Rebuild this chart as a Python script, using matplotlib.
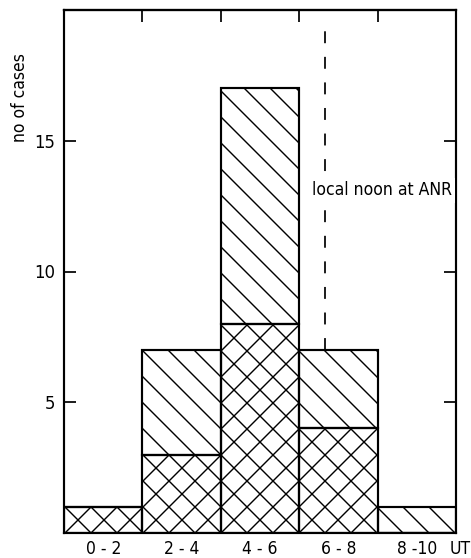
import matplotlib
matplotlib.use("Agg")
import matplotlib.pyplot as plt
from matplotlib import font_manager
import numpy as np

# ---- data ----
categories = ['0 - 2', '2 - 4', '4 - 6', '6 - 8', '8 -10']
bin_left = [0, 2, 4, 6, 8]
totals = [1, 7, 17, 7, 1]
crossed = [1, 3, 8, 4, 0]
yticks = [5, 10, 15]
top_ticks = [2, 4, 6, 8]
noon_x = 6.65
noon_label = 'local noon at ANR'

hatched = [t - c for t, c in zip(totals, crossed)]

names = {f.name for f in font_manager.fontManager.ttflist}
fam = 'Liberation Sans Narrow' if 'Liberation Sans Narrow' in names else 'DejaVu Sans'
plt.rcParams['font.family'] = [fam, 'DejaVu Sans']
plt.rcParams['font.stretch'] = 'condensed'
plt.rcParams['hatch.linewidth'] = 0.65
plt.rcParams['lines.scale_dashes'] = False

DPI = 156
fig = plt.figure(figsize=(471 / DPI, 558 / DPI), dpi=DPI)
ax = fig.add_axes([64 / 471, 25 / 558, 392 / 471, 523 / 558])

ax.bar(bin_left, crossed, width=2, align='edge', fill=False, hatch='xx',
       edgecolor='black', linewidth=1.0)
ax.bar(bin_left, hatched, bottom=crossed, width=2, align='edge', fill=False,
       hatch='\\\\', edgecolor='black', linewidth=1.0)

ax.set_xlim(0, 10)
ax.set_ylim(0, 20)

ax.plot([noon_x, noon_x], [7, 19.5], color='black', lw=0.8, dashes=(5.5, 6.3))
ax.text(8.1, 13.1, noon_label, ha='center', va='center', fontsize=8.1,
        bbox=dict(facecolor='white', edgecolor='none', pad=1.5))

ax.set_xticks([b + 1 for b in bin_left])
ax.set_xticklabels(categories, fontsize=8)
ax.tick_params(axis='x', bottom=True, length=0, pad=3)
ax.annotate('UT', xy=(9.85, 0), xycoords=('data', 'axes fraction'),
            xytext=(0, -3), textcoords='offset points', ha='left', va='top',
            fontsize=8)
# top ticks
sec = ax.secondary_xaxis('top')
sec.set_xticks(top_ticks)
sec.set_xticklabels([])
sec.tick_params(direction='in', length=5.5, width=0.8)

ax.set_yticks(yticks)
ax.tick_params(axis='y', direction='in', length=5.5, width=0.8, labelsize=8.5,
               right=True, pad=4)

for s in ax.spines.values():
    s.set_linewidth(1.0)
for s in sec.spines.values():
    s.set_linewidth(1.0)

ax.set_ylabel('no of cases', fontsize=8)
ax.yaxis.set_label_coords(-0.09, 0.832)

fig.savefig('out.png', dpi=DPI)
